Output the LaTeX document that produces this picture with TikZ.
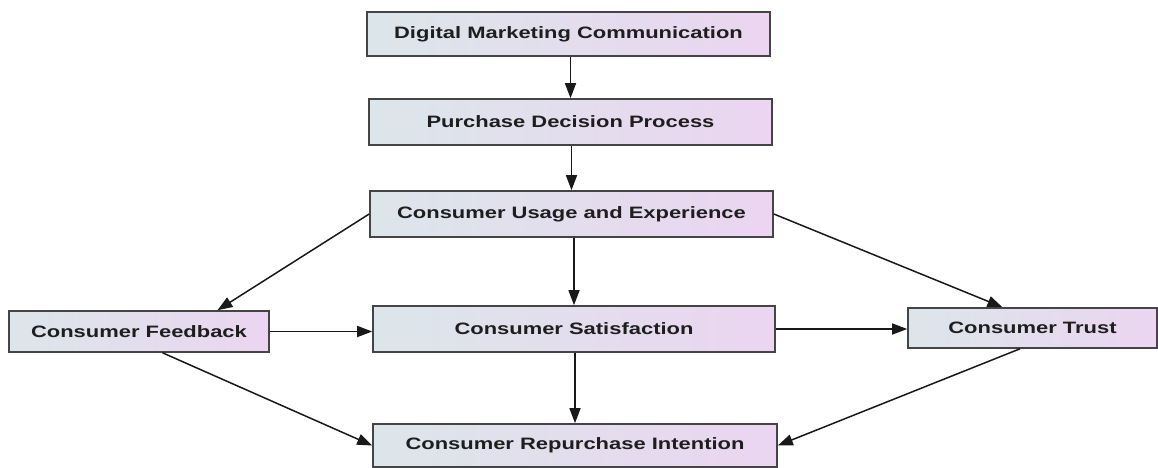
\documentclass[tikz,border=0pt]{standalone}
\usepackage{fontspec}
\setmainfont{Liberation Sans}
\usetikzlibrary{arrows.meta,calc}
\definecolor{boxleft}{HTML}{DCE6EA}
\definecolor{boxright}{HTML}{EBD5F0}
\definecolor{boxedge}{HTML}{454545}
\definecolor{boxtext}{HTML}{1E1E1E}
\newcommand{\boxlabel}[1]{\scalebox{1.33}[1]{#1}}
\begin{document}
\begin{tikzpicture}[x=1pt,y=-1pt,
  stage/.style={draw=boxedge, line width=1.6pt, left color=boxleft, right color=boxright,
    minimum height=#1, inner sep=0pt, text=boxtext,
    font=\fontsize{16.5}{18}\selectfont\bfseries},
  flow/.style={draw=black!90, line width=1.5pt, -{Triangle[length=15pt,width=11pt]}}]
\useasboundingbox[fill=white] (0,0) rectangle (1158,468);

\node[stage=44pt, minimum width=403pt] (dmc) at (568.5,34) {\boxlabel{Digital Marketing Communication}};
\node[stage=46pt, minimum width=403pt] (pdp) at (570.5,122) {\boxlabel{Purchase Decision Process}};
\node[stage=46pt, minimum width=403pt] (cue) at (571.5,214) {\boxlabel{Consumer Usage and Experience}};
\node[stage=46pt, minimum width=402pt] (sat) at (574,329) {\boxlabel{Consumer Satisfaction}};
\node[stage=41pt, minimum width=260pt] (fb) at (139,331.5) {\boxlabel{Consumer Feedback}};
\node[stage=40pt, minimum width=249pt] (tr) at (1032.5,328) {\boxlabel{Consumer Trust}};
\node[stage=43pt, minimum width=404pt] (rep) at (575,445.5) {\boxlabel{Consumer Repurchase Intention}};

% main chain, straight down into each box
\draw[flow] (dmc.south -| pdp.north) -- (pdp.north);
\draw[flow] (pdp.south -| cue.north) -- (cue.north);
\draw[flow] (cue.south -| sat.north) -- (sat.north);
\draw[flow] (sat.south -| rep.north) -- (rep.north);
% side branches
\draw[flow] (cue.west) -- ($(fb.north west)!0.8!(fb.north east)$);
\draw[flow] (cue.east) -- ($(tr.north west)!0.38!(tr.north east)$);
\draw[flow] (fb.east) -- (fb.east -| sat.west);
\draw[flow] (sat.east) -- (sat.east -| tr.west);
\draw[flow] ($(fb.south west)!0.59!(fb.south east)$) -- (rep.west);
\draw[flow] ($(tr.south west)!0.45!(tr.south east)$) -- (rep.east);
\end{tikzpicture}
\end{document}
